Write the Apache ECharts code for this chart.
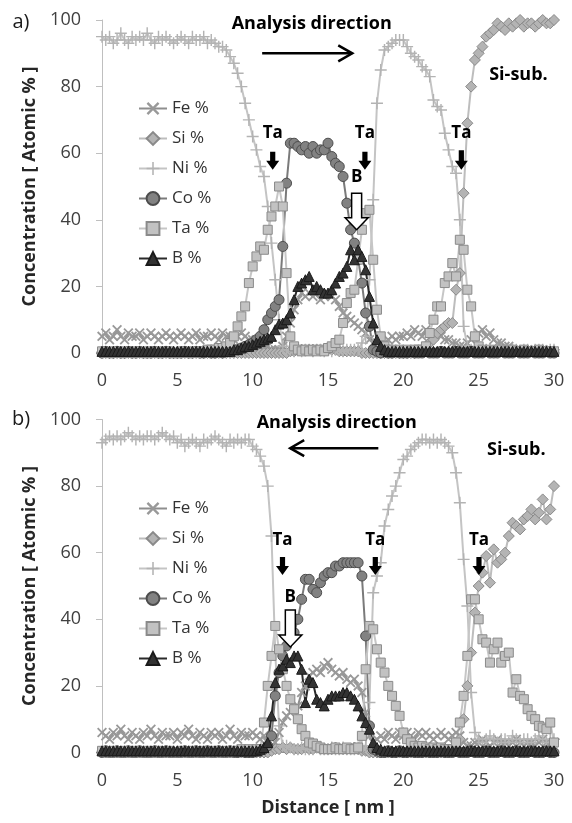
<!DOCTYPE html>
<html><head><meta charset="utf-8">
<script src="https://cdn.jsdelivr.net/npm/echarts@6/dist/echarts.min.js"></script>
<style>html,body{margin:0;padding:0;background:#fff}#c{width:572px;height:823px}</style>
</head><body><div id="c"></div>
<script>
// ---------- data (atomic %, one value every 0.25 nm from 0 to 30 nm) ----------
const xStep = 0.25;
const pointCount = 121;
const seriesNames = ['Fe %', 'Si %', 'Ni %', 'Co %', 'Ta %', 'B %'];
const xTickLabels = [0, 5, 10, 15, 20, 25, 30];
const yTickLabels = [0, 20, 40, 60, 80, 100];

// Panel a)
const feA = [
 5,6,4,5,7,5,4,6,5,5,6,4,5,6,5,4,5,6,5,4,
 5,6,5,4,5,6,4,5,5,6,5,4,6,5,5,4,5,6,5,4,
 4,3,3,2,2,1,1,1,2,5,9,13,16,18,17,18,17,18,16,17,
 18,17,16,14,12,11,10,9,8,7,6,4,3,3,4,3,4,5,4,5,
 5,6,5,7,6,5,7,6,5,6,5,4,4,3,3,2,2,3,4,5,
 6,7,5,6,4,3,3,2,2,1,1,1,1,1,0.5,1,0.5,1,0.5,1,
 0.5];
const siA = [
 0,0,0,0,0,0,0,0,0,0,0,0,0,0,0,0,0,0,0,0,
 0,0,0,0,0,0,0,0,0,0,0,0,0,0,0,0,0,0,0,0,
 0,0,0,0,0,0,0,0,0,0,0.5,0.5,1,1,1,1,1,1,1,1,
 1,1,1,0.5,0.5,0.5,0.5,0.5,0.5,0,0,0,0,0,0,0,0,0,0,0,
 0,0,0,0,0.5,1,2,3,4,6,7,8,9,9,19,24,48,69,80,88,
 90,92,95,96,97,99,98,97,99,98,99,100,98,99,99,98,99,100,99,99,
 100];
const niA = [
 95,94,95,93,94,96,94,93,95,94,95,94,96,94,93,95,94,95,94,93,
 94,95,94,93,95,94,94,95,93,94,93,92,92,91,89,87,84,80,75,70,
 65,61,56,53,44,33,22,10,2,1,1,0.5,1,0.5,1,1,0.5,1,1,0.5,
 1,0.5,1,1,0.5,1,1,1,1,3,5,22,46,75,85,91,92,93,94,94,
 94,92,90,89,88,86,85,83,76,74,73,66,61,56,54,40,8,2,1,1,
 1,0.5,1,1,0.5,1,1,1,0.5,1,1,0.5,1,1,0.5,1,1,1,0.5,1,
 1];
const coA = [
 0,0.5,0,0,0.5,0,0,0.5,0,0,0.5,0,0,0,0.5,0,0,0.5,0,0,
 0,0,0.5,0,0,0.5,0,0,0.5,0,0,0.5,0,0.5,0.5,1,1,1.5,2,2.5,
 3,4,5,7,10,12,14,16,32,51,63,63,62,61,62,60,62,60,61,61,
 63,59,57,56,53,45,37,33,28,21,12,8,1,0.5,0,0.5,0,0,0.5,0,
 0,0,0.5,0,0,0,0.5,0,0,0,0.5,0,0,0,0.5,0,0,0,0.5,0,
 0,0,0.5,0,0,0,0.5,0,0,0,0.5,0,0,0,0.5,0,0,0,0.5,0,
 0];
const taA = [
 0.5,0,0,0.5,0,0,0.5,0,0,0.5,0,0,0.5,0,0,0.5,0,0,0.5,0,
 0,0.5,0,0,0.5,0,0.5,0.5,1,1,1,1.5,1.5,2,3,5,8,11,14,21,
 26,29,32,31,37,41,44,50,44,24,5,2,1,0.5,1,0.5,1,0.5,1,0.5,
 1.5,2,3,4,9,15,18,19,28,37,42,43,28,13,5,2,1,1,0.5,1,
 0.5,1,0.5,1,1,1,2,6,10,14,14,21,23,27,23,34,31,19,14,5,
 2,1,0.5,1,0.5,0.5,1,0.5,0.5,1,0.5,0.5,1,0.5,0.5,0.5,1,0.5,0.5,0.5,
 0.5];
const bA = [
 0.5,0.5,0.5,0.5,0.5,0.5,0.5,0.5,0.5,0.5,0.5,0.5,0.5,0.5,0.5,0.5,0.5,0.5,0.5,0.5,
 0.5,0.5,0.5,0.5,0.5,0.5,0.5,0.5,0.5,0.5,0.5,0.5,0.5,0.5,0.5,1,1,1.5,2,2,
 2.5,3,3.5,4,4.5,5,7,8.7,9,10,12,16,20,21,22,23,19,20,19,18,
 18,19,21,23,24,26,31,28,31,29,25,17,9,4,2,1,0.5,0.5,0.5,0.5,
 0.5,0.5,0.5,0.5,0.5,0.5,0.5,0.5,0.5,0.5,0.5,0.5,0.5,0.5,0.5,0.5,0.5,0.5,0.5,0.5,
 0.5,0.5,0.5,0.5,0.5,0.5,0.5,0.5,0.5,0.5,0.5,0.5,0.5,0.5,0.5,0.5,0.5,0.5,0.5,0.5,
 0.5];

// Panel b)
const feB = [
 6,5,4,6,5,7,5,4,6,5,4,6,5,7,5,4,6,5,5,6,
 4,6,5,7,5,4,6,5,4,6,5,6,4,5,7,5,4,6,5,5,
 6,5,4,5,3,2,3,6,9,11,12,13,14,18,20,23,24,25,24,26,
 27,25,24,23,24,22,21,22,20,18,12,5,3,4,5,4,6,5,4,6,
 5,6,5,4,6,5,6,5,4,5,6,5,4,5,6,5,3,2,2,3,
 3,4,3,2,3,4,3,3,2,3,4,3,2,3,3,2,3,4,3,2,
 3];
const siB = [
 0,0,0,0,0,0,0,0,0,0,0,0,0,0,0,0,0,0,0,0,
 0,0,0,0,0,0,0,0,0,0,0,0,0,0,0,0,0,0,0,0,
 0,0,0,0,0,0.5,1,1,1.5,1,1.5,1,1,1,1.5,1,1,1.5,1,1,
 1,1,1.5,1,1,1,1,1.5,1,0.5,0.5,0,0,0,0,0,0,0,0,0,
 0,0,0,0,0,0,0,0,0,0,0,0,0,0.5,1,4,10,20,30,42,
 50,54,59,51,61,57,58,60,65,69,68,67,70,71,73,70,72,76,70,73,
 80];
const niB = [
 93,94,95,94,95,94,95,96,95,94,95,94,95,95,94,95,96,95,94,95,
 93,94,92,93,94,93,92,94,93,94,95,94,93,92,94,93,94,93,94,94,
 92,91,89,86,80,65,30,8,2,2,1.5,1,1,1.5,1,1,1,1.5,1,1,
 1,1.5,1,1,1.5,1,1,1,1.5,2,2,15,48,53,57,68,73,77,80,84,
 88,89,91,92,93,94,94,93,94,93,94,93,92,90,84,75,58,44,18,6,
 4,3,4,5,4,3,4,4,3,5,4,3,4,4,3,4,5,4,3,4,
 4];
const coB = [
 0,0.5,0,0,0.5,0,0,0.5,0,0,0.5,0,0,0,0.5,0,0,0.5,0,0,
 0,0,0.5,0,0,0.5,0,0,0.5,0,0,0.5,0,0,0.5,0,0,0.5,0,0,
 0,0.5,0.5,1,2,5,17,24,29,32,34,36,40,46,52,52,49,48,51,53,
 54,54,56,56,57,57,57,57,57,53,35,8,1,0.5,0,0,0.5,0,0,0.5,
 0,0,0.5,0,0,0,0.5,0,0,0,0.5,0,0,0,0.5,0,0,0,0.5,0,
 0,0,0.5,0,0,0,0.5,0,0,0,0.5,0,0,0,0.5,0,0,0,0.5,0,
 0];
const taB = [
 0.5,0,0,0.5,0,0,0.5,0,0,0.5,0,0,0.5,0,0,0.5,0,0,0.5,0,
 0,0.5,0,0,0.5,0,0,0.5,0,0,0.5,0,0,0.5,0,0.5,0.5,1,0.5,1,
 0.5,1,1,9,20,29,38,31,25,20,16,13,10,7,5,3,2.7,2,1.5,1,
 1,1,1.5,1,1,1.5,1,1,1.5,5,25,38,37,31,27,24,20,17,14,11,
 6,4,3,2,1.5,2,1.5,1,1.5,1,1.5,1,1,1,3,9,17,29,46,46,
 40,34,33,27,31,33,27,29,30,18,22,17,16,13,11,10,8,7.5,7,9,
 3];
const bB = [
 0.5,0.5,0.5,0.5,0.5,0.5,0.5,0.5,0.5,0.5,0.5,0.5,0.5,0.5,0.5,0.5,0.5,0.5,0.5,0.5,
 0.5,0.5,0.5,0.5,0.5,0.5,0.5,0.5,0.5,0.5,0.5,0.5,0.5,0.5,0.5,0.5,0.5,0.5,0.5,0.5,
 0.5,0.5,1,1.5,3,11,21,25,26,28,27,29,29,25,15,22,21,16,15,14,
 16,17,17,17,18,18,17,16,14,11,9,7,3,1.5,1,0.5,0.5,0.5,0.5,0.5,
 0.5,0.5,0.5,0.5,0.5,0.5,0.5,0.5,0.5,0.5,0.5,0.5,0.5,0.5,0.5,0.5,0.5,0.5,0.5,0.5,
 0.5,0.5,0.5,0.5,0.5,0.5,0.5,0.5,0.5,0.5,0.5,0.5,0.5,0.5,0.5,0.5,0.5,0.5,0.5,0.5,
 0.5];

const distance = Array.from({length: pointCount}, (_, i) => +(i * xStep).toFixed(2));
const panelA = [feA, siA, niA, coA, taA, bA];
const panelB = [feB, siB, niB, coB, taB, bB];

// ---------- styling ----------
const FONT = '"Open Sans", "DejaVu Sans", sans-serif';
const xSym = 'path://M0,1.3L1.3,0L5,3.7L8.7,0L10,1.3L6.3,5L10,8.7L8.7,10L5,6.3L1.3,10L0,8.7L3.7,5Z';
const plusSym = 'path://M4.4,0H5.6V4.4H10V5.6H5.6V10H4.4V5.6H0V4.4H4.4Z';
const styles = [
  {symbol: xSym, size: 10, line: '#8e8e8e', fill: '#999999', border: null},
  {symbol: 'diamond', size: 11, line: '#bdbdbd', fill: '#b4b4b4', border: '#8a8a8a'},
  {symbol: plusSym, size: 12, line: '#c4c4c4', fill: '#b3b3b3', border: null},
  {symbol: 'circle', size: 10, line: '#7a7a7a', fill: '#828282', border: '#4d4d4d'},
  {symbol: 'rect', size: 9, line: '#c6c6c6', fill: '#c2c2c2', border: '#8a8a8a'},
  {symbol: 'triangle', size: 10, line: '#2a2a2a', fill: '#333333', border: '#1a1a1a'}
];

function makeSeries(vals, idx, gi) {
  const st = styles[idx];
  return {
    type: 'line', name: seriesNames[idx], xAxisIndex: gi, yAxisIndex: gi,
    data: distance.map((x, i) => [x, vals[i]]),
    symbol: st.symbol, symbolSize: st.size, showSymbol: true, showAllSymbol: true,
    lineStyle: {color: st.line, width: 2},
    itemStyle: {color: st.fill, borderColor: st.border || st.fill, borderWidth: st.border ? 1 : 0},
    emphasis: {disabled: true}, animation: false, clip: false
  };
}

const grids = [
  {left: 102, top: 20, width: 452, height: 333},
  {left: 102, top: 419.5, width: 452, height: 333}
];

const axisLabel = {fontFamily: FONT, fontSize: 18, color: '#404040'};
const option = {
  backgroundColor: '#fff',
  animation: false,
  grid: grids,
  xAxis: [0, 1].map(i => ({
    type: 'value', gridIndex: i, min: xTickLabels[0], max: xTickLabels[xTickLabels.length - 1], interval: 5,
    axisLine: {show: true, onZero: false, lineStyle: {color: '#bfbfbf'}},
    axisTick: {show: false}, splitLine: {show: false},
    axisLabel: Object.assign({margin: 19}, axisLabel),
    name: i === 1 ? 'Distance [ nm ]' : '', nameLocation: 'middle', nameGap: 46,
    nameTextStyle: {fontFamily: FONT, fontWeight: 'bold', fontSize: 18, color: '#262626'}
  })),
  yAxis: [0, 1].map(i => ({
    type: 'value', gridIndex: i, min: yTickLabels[0], max: yTickLabels[yTickLabels.length - 1], interval: 20,
    axisLine: {show: true, lineStyle: {color: '#bfbfbf'}},
    axisTick: {show: true, length: 6, lineStyle: {color: '#bfbfbf'}}, splitLine: {show: false},
    axisLabel: Object.assign({margin: 21}, axisLabel),
    name: 'Concentration [ Atomic % ]', nameLocation: 'middle', nameGap: 61,
    nameTextStyle: {fontFamily: FONT, fontWeight: 'bold', fontSize: 18, color: '#262626'}
  })),
  legend: [95, 495].map(top => ({
    orient: 'vertical', left: 133, top: top, itemWidth: 28, itemHeight: 16, itemGap: 13,
    data: seriesNames, selectedMode: false,
    textStyle: {fontFamily: FONT, fontSize: 17, color: '#333', lineHeight: 16}
  })),
  series: panelA.map((v, i) => makeSeries(v, i, 0)).concat(panelB.map((v, i) => makeSeries(v, i, 1)))
};

const chart = echarts.init(document.getElementById('c'));
chart.setOption(option);

// ---------- annotations (anchored in data coordinates) ----------
const annotations = [
  {grid: 0, panel: 'a)', title: [13.92, 98.8], arrow: [10.63, 16.61, 90], sub: [27.64, 83.5],
   ta: [[11.33, 66, 60.4, 55], [17.45, 66, 60.4, 55], [23.85, 66, 60.9, 55]],
   b: [16.9, 52.9, 48, 37]},
  {grid: 1, panel: 'b)', title: [15.58, 99], arrow: [18.34, 12.49, 91.4], sub: [27.5, 90.8],
   ta: [[11.98, 63.8, 58.7, 53.3], [18.14, 63.8, 58.7, 53.3], [25.02, 63.8, 58.7, 53.3]],
   b: [12.5, 46.7, 42.8, 31.7]}
];
const px = (g, x, y) => chart.convertToPixel({gridIndex: g}, [x, y]);
const boldFont = 'bold 17px ' + FONT;
const bigBold = 'bold 18px ' + FONT;
const els = [];
annotations.forEach(a => {
  const g = a.grid;
  const top = px(g, 0, 100);
  els.push({type: 'text', x: 21, y: top[1] + (g === 0 ? 2 : 0), z: 100,
    style: {text: a.panel, font: '20px ' + FONT, fill: '#1a1a1a', align: 'center', verticalAlign: 'middle'}});
  let p = px(g, a.title[0], a.title[1]);
  els.push({type: 'text', x: p[0], y: p[1], z: 100,
    style: {text: 'Analysis direction', font: bigBold, fill: '#000', align: 'center', verticalAlign: 'middle'}});
  p = px(g, a.sub[0], a.sub[1]);
  els.push({type: 'text', x: p[0], y: p[1], z: 100,
    style: {text: 'Si-sub.', font: bigBold, fill: '#000', align: 'center', verticalAlign: 'middle'}});
  const t0 = px(g, a.arrow[0], a.arrow[2]), t1 = px(g, a.arrow[1], a.arrow[2]);
  const dir = t1[0] > t0[0] ? 1 : -1;
  els.push({type: 'line', z: 100, shape: {x1: t0[0], y1: t0[1], x2: t1[0], y2: t1[1]}, style: {stroke: '#000', lineWidth: 2.5}});
  els.push({type: 'polyline', z: 100, shape: {points: [[t1[0] - dir * 14, t1[1] - 8], [t1[0], t1[1]], [t1[0] - dir * 14, t1[1] + 8]]},
    style: {stroke: '#000', lineWidth: 2.5, fill: null}});
  a.ta.forEach(t => {
    const q = px(g, t[0], t[1]);
    els.push({type: 'text', x: q[0], y: q[1], z: 100,
      style: {text: 'Ta', font: boldFont, fill: '#000', align: 'center', verticalAlign: 'middle'}});
    const s = px(g, t[0], t[2]), e = px(g, t[0], t[3]);
    const cx = s[0];
    els.push({type: 'polygon', z: 100, shape: {points: [[cx - 2.6, s[1]], [cx + 2.6, s[1]], [cx + 2.6, e[1] - 9], [cx + 6.5, e[1] - 9], [cx, e[1]], [cx - 6.5, e[1] - 9], [cx - 2.6, e[1] - 9]]},
      style: {fill: '#000'}});
  });
  const bq = px(g, a.b[0], a.b[1]);
  els.push({type: 'text', x: bq[0], y: bq[1], z: 100,
    style: {text: 'B', font: boldFont, fill: '#000', align: 'center', verticalAlign: 'middle'}});
  const bs = px(g, a.b[0], a.b[2]), be = px(g, a.b[0], a.b[3]);
  const bx = bs[0];
  els.push({type: 'polygon', z: 101, shape: {points: [[bx - 5, bs[1]], [bx + 5, bs[1]], [bx + 5, be[1] - 12], [bx + 11.5, be[1] - 12], [bx, be[1]], [bx - 11.5, be[1] - 12], [bx - 5, be[1] - 12]]},
    style: {fill: '#fff', stroke: '#000', lineWidth: 1.5}});
});
chart.setOption({graphic: els});
</script>
</body></html>
